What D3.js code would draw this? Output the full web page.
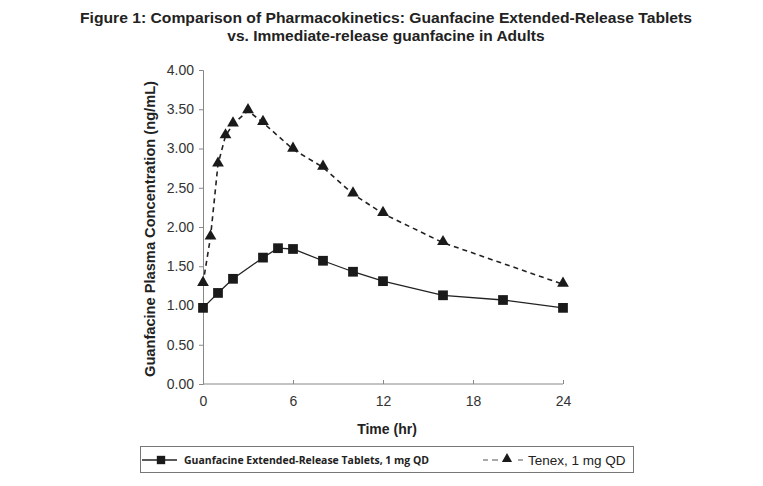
<!DOCTYPE html>
<html><head><meta charset="utf-8">
<script src="https://cdn.jsdelivr.net/npm/d3@7"></script>
<style>body{margin:0;background:#fff}</style>
</head><body><svg id="c" width="763" height="486"></svg>
<script>
const erTimes = [0,1,2,4,5,6,8,10,12,16,20,24];
const erValues = [0.97,1.16,1.34,1.61,1.73,1.72,1.57,1.43,1.31,1.13,1.07,0.97];
const irTimes = [0,0.5,1,1.5,2,3,4,6,8,10,12,16,24];
const irValues = [1.28,1.87,2.80,3.16,3.31,3.48,3.33,2.99,2.76,2.42,2.17,1.80,1.27];
const xTicks = [0,6,12,18,24];
const yTicks = [0,0.5,1,1.5,2,2.5,3,3.5,4];
const titleLines = ["Figure 1: Comparison of Pharmacokinetics: Guanfacine Extended-Release Tablets","vs. Immediate-release guanfacine in Adults"];
const seriesNames = ["Guanfacine Extended-Release Tablets, 1 mg QD","Tenex, 1 mg QD"];

const svg = d3.select("#c");
const x = d3.scaleLinear().domain([0,24]).range([203,563]);
const y = d3.scaleLinear().domain([0,4]).range([384,70]);

svg.selectAll("text.title").data(titleLines).join("text")
  .attr("x",386).attr("y",(d,i)=>23+i*18).attr("text-anchor","middle")
  .attr("font-family","Liberation Sans, Arial, sans-serif").attr("font-weight","bold")
  .attr("font-size","15.5px").attr("fill","#222")
  .attr("textLength",(d,i)=>i===0?612:null).attr("lengthAdjust","spacingAndGlyphs")
  .text(d=>d);

const axisColor = "#888";
const gy = svg.append("g").attr("transform","translate(203,0)")
  .call(d3.axisLeft(y).tickValues(yTicks).tickFormat(d3.format(".2f")).tickSize(4).tickPadding(5));
const gx = svg.append("g").attr("transform","translate(0,384)")
  .call(d3.axisBottom(x).tickValues(xTicks).tickSize(4).tickPadding(8));
[gx,gy].forEach(g=>{
  g.select(".domain").attr("stroke",axisColor);
  g.selectAll(".tick line").attr("stroke",axisColor);
  g.selectAll(".tick text").attr("font-family","Liberation Sans, Arial, sans-serif").attr("font-size","14px").attr("fill","#333");
});
gx.select(".domain").attr("d","M203,0H563");
gx.selectAll(".tick line").attr("y1",0).attr("y2",-4);

svg.append("text").attr("x",387).attr("y",434).attr("text-anchor","middle")
  .attr("font-family","Liberation Sans, Arial, sans-serif").attr("font-weight","bold").attr("font-size","14px").attr("fill","#222").text("Time (hr)");
svg.append("text").attr("transform","translate(155,229) rotate(-90)").attr("text-anchor","middle")
  .attr("font-family","Liberation Sans, Arial, sans-serif").attr("font-weight","bold").attr("font-size","14px").attr("fill","#222")
  .attr("textLength",296).attr("lengthAdjust","spacingAndGlyphs")
  .text("Guanfacine Plasma Concentration (ng/mL)");

const er = erTimes.map((t,i)=>[t,erValues[i]]);
const ir = irTimes.map((t,i)=>[t,irValues[i]]);
const line = d3.line().x(d=>x(d[0])).y(d=>y(d[1]));
svg.append("path").datum(ir).attr("d",line).attr("fill","none").attr("stroke","#222").attr("stroke-width",1.6).attr("stroke-dasharray","5,4");
svg.append("path").datum(er).attr("d",line).attr("fill","none").attr("stroke","#222").attr("stroke-width",1.3);
const sq = d3.symbol().type(d3.symbolSquare).size(95);
const tri = d3.symbol().type(d3.symbolTriangle).size(60);
svg.selectAll("path.sq").data(er).join("path").attr("class","sq").attr("d",sq)
  .attr("transform",d=>`translate(${x(d[0])},${y(d[1])})`).attr("fill","#1a1a1a");
svg.selectAll("path.tri").data(ir).join("path").attr("class","tri").attr("d",tri)
  .attr("transform",d=>`translate(${x(d[0])},${y(d[1])-1})`).attr("fill","#1a1a1a");

// legend
const lg = svg.append("g");
lg.append("rect").attr("x",140.5).attr("y",446.5).attr("width",493).attr("height",26).attr("fill","#fff").attr("stroke","#777");
lg.append("line").attr("x1",142).attr("x2",177).attr("y1",460).attr("y2",460).attr("stroke","#222").attr("stroke-width",1.3);
lg.append("path").attr("d",d3.symbol().type(d3.symbolSquare).size(70)).attr("transform","translate(161,460)").attr("fill","#1a1a1a");
lg.append("text").attr("x",184).attr("y",464).attr("font-family","Open Sans, Calibri, sans-serif").attr("font-weight","bold").attr("font-size","10.5px").attr("fill","#222")
  .attr("textLength",245).attr("lengthAdjust","spacingAndGlyphs").text(seriesNames[0]);
lg.append("line").attr("x1",483).attr("x2",523).attr("y1",460).attr("y2",460).attr("stroke","#555").attr("stroke-width",1.2).attr("stroke-dasharray","5,4,6,20,5");
lg.append("path").attr("d",d3.symbol().type(d3.symbolTriangle).size(45)).attr("transform","translate(507,459)").attr("fill","#1a1a1a");
lg.append("text").attr("x",528).attr("y",465).attr("font-family","Liberation Sans, Arial, sans-serif").attr("font-size","13.5px").attr("fill","#222").text(seriesNames[1]);
</script></body></html>
